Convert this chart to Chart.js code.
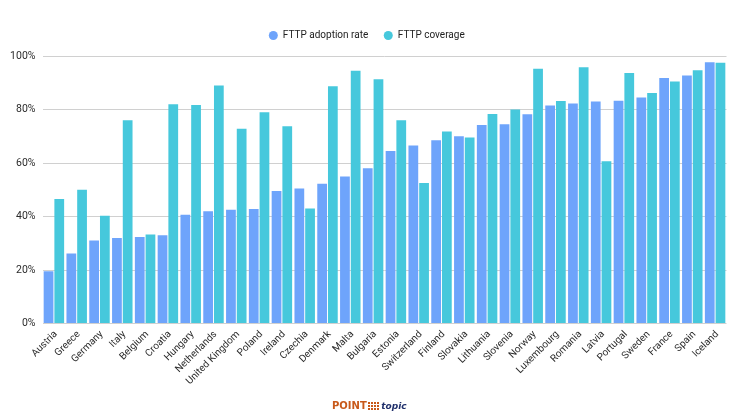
<!DOCTYPE html>
<html>
<head>
<meta charset="utf-8">
<script src="https://cdn.jsdelivr.net/npm/chart.js@4"></script>
<style>
  html, body { margin: 0; background: #fff; }
  #wrap { position: relative; width: 740px; height: 418px; overflow: hidden; }
  canvas { display: block; }
  #logo { position: absolute; left: 332px; top: 399px; height: 14px; line-height: 14px; white-space: nowrap; display: flex; align-items: center;
    font-family: "DejaVu Sans", sans-serif; font-size: 10px; font-weight: 700; }
  #logo .point { color: #c8591a; }
  #logo .topic { color: #1f2f6b; font-style: italic; font-size: 9px; margin-left: 2px; }
  #logo .dots { display: inline-grid; grid-template-columns: repeat(4, 2.5px); grid-auto-rows: 2.2px; gap: 0.5px; margin-left: 1px; }
  #logo .dots i { background: #c8591a; }
</style>
</head>
<body>
<div id="wrap">
  <canvas id="chart" width="740" height="418"></canvas>
  <div id="logo"><span class="point">POINT</span><span class="dots"><i></i><i></i><i></i><i></i><i></i><i></i><i></i><i></i><i></i><i></i><i></i><i></i></span><span class="topic">topic</span></div>
</div>
<script>
const countries = ["Austria", "Greece", "Germany", "Italy", "Belgium", "Croatia", "Hungary", "Netherlands", "United Kingdom", "Poland", "Ireland", "Czechia", "Denmark", "Malta", "Bulgaria", "Estonia", "Switzerland", "Finland", "Slovakia", "Lithuania", "Slovenia", "Norway", "Luxembourg", "Romania", "Latvia", "Portugal", "Sweden", "France", "Spain", "Iceland"];
const adoption = [19.5, 26.2, 31, 32, 32.3, 33, 40.7, 42, 42.5, 42.8, 49.5, 50.5, 52.2, 55, 58, 64.5, 66.5, 68.5, 70, 74.2, 74.5, 78.2, 81.5, 82.2, 83, 83.3, 84.5, 91.8, 92.7, 97.7];
const coverage = [46.5, 50, 40.3, 76, 33.3, 82, 81.7, 89, 72.8, 79, 73.7, 43, 88.7, 94.5, 91.3, 76, 52.5, 71.8, 69.5, 78.3, 80, 95.2, 83.2, 95.8, 60.7, 93.6, 86.2, 90.5, 94.7, 97.5];

const fontName = 'Roboto, sans-serif';

// extra room under the legend
const legendGap = {
  id: "legendGap",
  beforeInit(chart) {
    const fit = chart.legend.fit;
    chart.legend.fit = function () {
      fit.call(this);
      this.height += 5.5;
    };
  },
};

new Chart(document.getElementById("chart").getContext("2d"), {
  type: "bar",
  plugins: [legendGap],
  data: {
    labels: countries,
    datasets: [
      { label: "FTTP adoption rate", data: adoption, backgroundColor: "#6ea4fb" },
      { label: "FTTP coverage", data: coverage, backgroundColor: "#46c8dc" },
    ],
  },
  options: {
    responsive: false,
    animation: false,
    categoryPercentage: 0.94,
    barPercentage: 0.91,
    layout: { padding: { left: 7, right: 13.5, top: 15, bottom: 0 } },
    plugins: {
      tooltip: { enabled: false },
      legend: {
        position: "top",
        labels: {
          usePointStyle: true,
          pointStyle: "circle",
          pointStyleWidth: 9,
          boxHeight: 6.4,
          padding: 15.5,
          color: "#222",
          font: { family: fontName, size: 10 },
        },
      },
    },
    scales: {
      x: {
        grid: { display: false },
        border: { display: false },
        ticks: {
          autoSkip: false,
          minRotation: 45,
          maxRotation: 45,
          labelOffset: 2,
          color: "#2b2b2b",
          padding: -3,
          font: { family: fontName, size: 10 },
        },
        afterFit: (scale) => { scale.height = 94.5; },
      },
      y: {
        min: 0,
        max: 100,
        grid: { color: "#d0d0d0", drawTicks: false },
        border: { display: false },
        ticks: {
          stepSize: 20,
          padding: 7,
          color: "#2b2b2b",
          font: { family: fontName, size: 10.5 },
          callback: (v) => v + "%",
        },
        afterFit: (scale) => { scale.width = 35.5; },
      },
    },
  },
});
</script>
</body>
</html>
